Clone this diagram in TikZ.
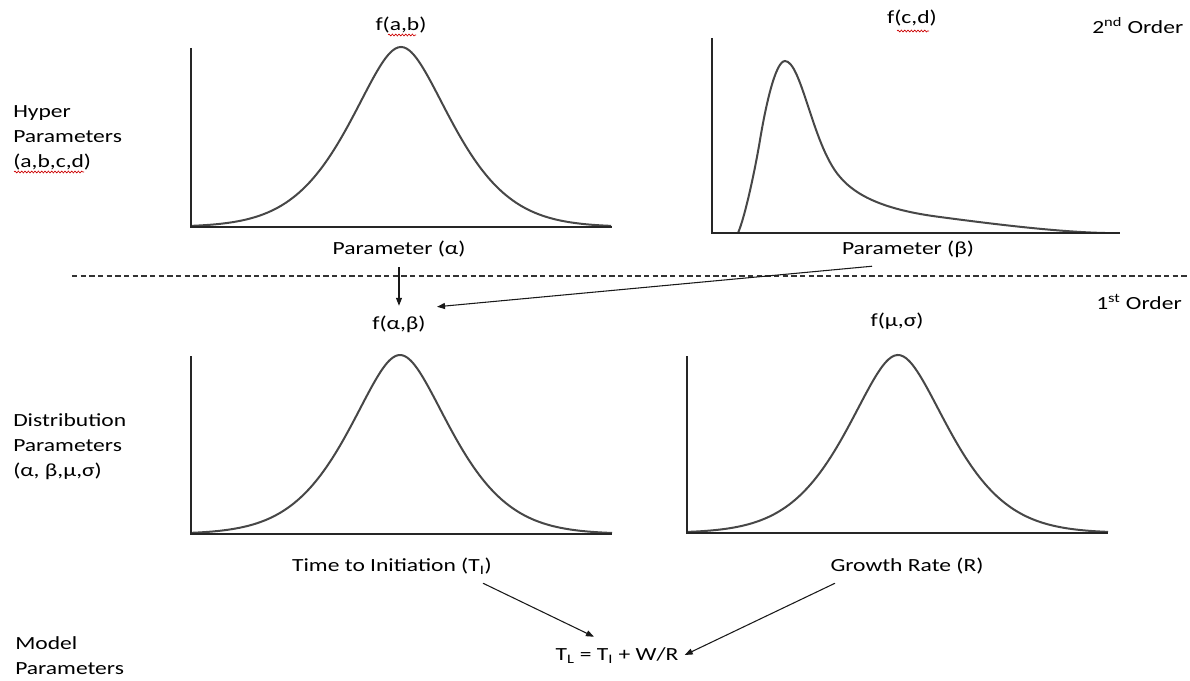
\documentclass[tikz,border=0pt]{standalone}
\usepackage{fontspec}
\setmainfont[FakeStretch=1.27]{Carlito}
\usetikzlibrary{arrows.meta,decorations.pathmorphing}
\begin{document}
\begin{tikzpicture}[x=0.75pt,y=-0.75pt,
  lbl/.style={inner sep=0pt, font=\fontsize{13.9}{18.75}\selectfont, text height=10pt, text depth=3pt},
  side/.style={inner sep=0pt, font=\fontsize{13.9}{18.75}\selectfont, anchor=west, align=left},
  axisline/.style={line width=2pt, draw=black!85},
  curve/.style={line width=1.5pt, draw=black!72},
  arr/.style={-{Triangle[length=6pt,width=4.5pt]}, line width=0.8pt, draw=black!90},
  sep/.style={line width=0.8pt, draw=black!80, dash pattern=on 4pt off 2.5pt},
  squig/.style={red!80!black, line width=0.5pt, decorate, decoration={snake, amplitude=0.7pt, segment length=2.5pt}},
  declare function={bell(\u)=exp(-(((\u/10)^2+4)^0.75-2.828)/18.52);}]
\useasboundingbox (0,0) rectangle (1190,681);

% ---- labels ----
\node[lbl] (fab) at (401,26) {f(a,b)};
\node[lbl] (pa) at (399,250) {Parameter (α)};
\node[lbl] (fcd) at (912,19) {f(c,d)};
\node[lbl, anchor=west] (o2) at (1092,29) {2\textsuperscript{nd} Order};
\node[lbl] (pb) at (908,250) {Parameter (β)};
\node[lbl] (fab2) at (399,325) {f(α,β)};
\node[lbl, anchor=west] (o1) at (1096,305) {1\textsuperscript{st} Order};
\node[lbl] (fms) at (897,322) {f(μ,σ)};
\node[lbl] (ti) at (392,567) {Time to Initiation (T\textsubscript{I})};
\node[lbl] (gr) at (907,567) {Growth Rate (R)};
\node[lbl] (tl) at (617,656) {T\textsubscript{L} = T\textsubscript{I} + W/R};
\node[side] (hyp) at (13,138) {Hyper\\Parameters\\(a,b,c,d)};
\node[side] (dist) at (13,447) {Distribution\\Parameters\\(α, β,μ,σ)};
\node[side] (model) at (15,656) {Model\\Parameters};

% spell-check squiggles
\draw[squig] (388,35) -- (416,35);
\draw[squig] (897,31) -- (929,31);
\draw[squig] (14,172) -- (84,172);

% ---- top-left plot ----
\draw[curve] plot[domain=-210:210, samples=141, smooth] ({401+\x},{227-180*bell(\x)});
\draw[axisline] (191,48) -- (191,227) -- (612,227);

% ---- top-right plot ----
\draw[curve] (738,233) .. controls (745,217) and (755,170) .. (760,140)
  .. controls (765,110) and (775,61) .. (785,61)
  .. controls (793,61) and (800,82) .. (807,103)
  .. controls (815,127) and (825,160) .. (840,177)
  .. controls (856,196) and (885,210) .. (940,217)
  .. controls (1000,225) and (1060,232) .. (1105,233);
\draw[axisline] (712,38) -- (712,233) -- (1120,233);

% ---- bottom-left plot ----
\draw[curve] plot[domain=-209:212, samples=141, smooth] ({400+\x},{534-179*bell(\x)});
\draw[axisline] (191,356) -- (191,534) -- (612,534);

% ---- bottom-right plot ----
\draw[curve] plot[domain=-211:210, samples=141, smooth] ({898+\x},{533-178*bell(\x)});
\draw[axisline] (687,356) -- (687,533) -- (1108,533);

% ---- separator ----
\draw[sep] (72,276) -- (1190,276);

% ---- connectors ----
\draw[arr, shorten <=6.2pt, shorten >=7.7pt] (pa.south) -- (fab2.north);
\draw[arr] ([shift={(-36,7.3)}]pb.south) -- ([shift={(38,-9.3)}]fab2.north);
\draw[arr] ([shift={(91,7.3)}]ti.south) -- ([shift={(-23,-10.3)}]tl.north);
\draw[arr] ([shift={(-72,7.3)}]gr.south) -- ([shift={(6,-1)}]tl.east);
\end{tikzpicture}
\end{document}
